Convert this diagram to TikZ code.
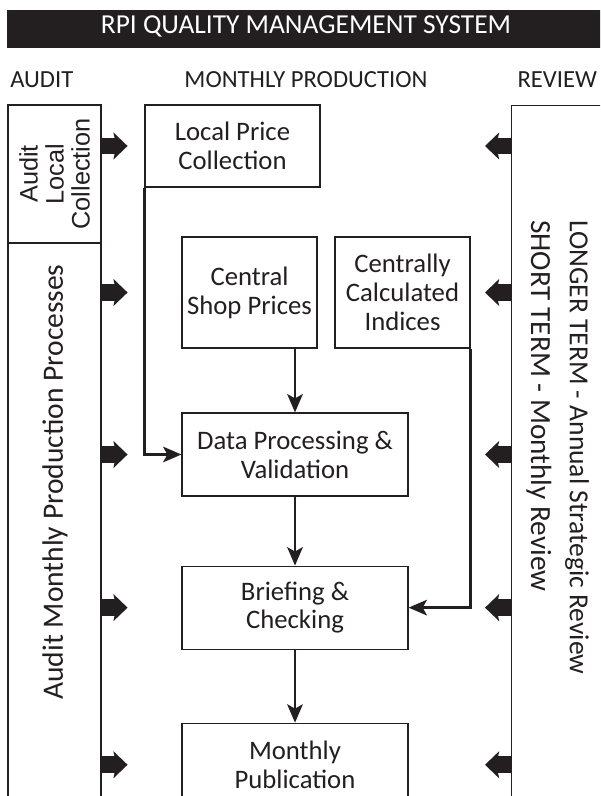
\documentclass[tikz,border=0pt]{standalone}
\usepackage{fontspec}
\setmainfont{Carlito}
\newfontfamily\arialfont{Liberation Sans}
\usepackage{tikz}
\usetikzlibrary{arrows.meta,positioning,calc}
\definecolor{inkblack}{RGB}{35, 31, 32}

\begin{document}
\begin{tikzpicture}[
  procbox/.style={rectangle, draw=inkblack, fill=white, line width=0.8pt, align=center, inner sep=0pt, text=inkblack, font=\fontsize{19}{20.5}\selectfont},
  sidebox/.style={rectangle, draw=inkblack, line width=0.8pt, inner sep=0pt, text=inkblack},
  headtext/.style={inner sep=0pt, text=inkblack, font=\fontsize{17.5}{19}\selectfont},
  sidetext/.style={inner sep=0pt, text=inkblack, font=\fontsize{21}{22}\selectfont},
  flowarrow/.style={-{Stealth[length=13pt,width=11pt,inset=3pt]}, line width=2.1pt, color=inkblack},
  blockarrow/.style={-{Stealth[length=10pt,width=19pt,inset=2pt]}, line width=12pt, color=inkblack}
]
\useasboundingbox (0,0) rectangle (15,-19.9);
\clip (0,0) rectangle (15,-19.9);

% Banner and column headings
\node[rectangle, fill=inkblack, inner sep=0pt, minimum width=15.3cm, minimum height=0.95cm, anchor=west] (bar) at (0.175,-0.725) {};
\node[headtext, text=white, font=\fontsize{19.5}{21}\selectfont] (title) at (7.65,-0.67) {RPI QUALITY MANAGEMENT SYSTEM};
\node[headtext, anchor=west] (hdaudit) at (0.25,-2.0) {AUDIT};
\node[headtext] (hdprod) at (7.65,-2.0) {MONTHLY PRODUCTION};
\node[headtext, anchor=east] (hdreview) at (14.93,-2.0) {REVIEW};

% Left column: audit
\node[sidebox, rotate=90, minimum width=3.45cm, minimum height=2.325cm, align=center, font=\arialfont\fontsize{18}{18.5}\selectfont] (alc) at (1.3625,-4.35) {Audit\\Local\\Collection};
\node[sidebox, anchor=north, minimum width=2.325cm, minimum height=15cm] (amp) at (1.3625,-6.075) {};
\node[sidetext, rotate=90] (amptext) at (1.375,-12.05) {Audit Monthly Production Processes};

% Right column: review
\node[sidebox, anchor=north west, minimum width=4cm, minimum height=18cm] (review) at (12.775,-2.625) {};
\node[sidetext, rotate=-90, anchor=west, font=\fontsize{19.6}{21}\selectfont] (longterm) at (14.425,-5.5) {LONGER TERM - Annual Strategic Review};
\node[sidetext, rotate=-90, anchor=west, font=\fontsize{20.8}{22}\selectfont] (shortterm) at (13.475,-5.5) {SHORT TERM - Monthly Review};

% Middle column: monthly production
\node[procbox, minimum width=4.375cm, minimum height=2.05cm] (lpc) at (5.8125,-3.65) {Local Price\\Collection};
\node[procbox, minimum width=3.375cm, minimum height=2.775cm] (csp) at (6.2375,-7.3125) {Central\\Shop Prices};
\node[procbox, minimum width=3.375cm, minimum height=2.775cm] (cci) at (10.0625,-7.3125) {Centrally\\Calculated\\Indices};
\node[procbox, minimum width=5.65cm, minimum height=2.075cm] (dp) at (7.375,-11.3625) {Data Processing \&\\Validation};
\node[procbox, minimum width=5.65cm, minimum height=2.075cm, below=1.725cm of dp] (bc) {Briefing \&\\Checking};
\node[procbox, minimum width=5.65cm, minimum height=2.075cm, below=1.825cm of bc] (mp) {Monthly\\Publication};

% Connectors
\draw[flowarrow] (lpc.south west) |- (dp.west);
\draw[flowarrow] (dp.north |- csp.south) -- (dp.north);
\draw[flowarrow] (cci.south east) |- (bc.east);
\draw[flowarrow] (dp) -- (bc);
\draw[flowarrow] (bc) -- (mp);

% Audit and review arrows
\foreach \row in {lpc,csp,dp,bc,mp}{
  \draw[blockarrow] (amp.east |- \row) -- ++(0.65,0);
  \draw[blockarrow] (review.west |- \row) -- ++(-0.65,0);
}

\end{tikzpicture}
\end{document}
